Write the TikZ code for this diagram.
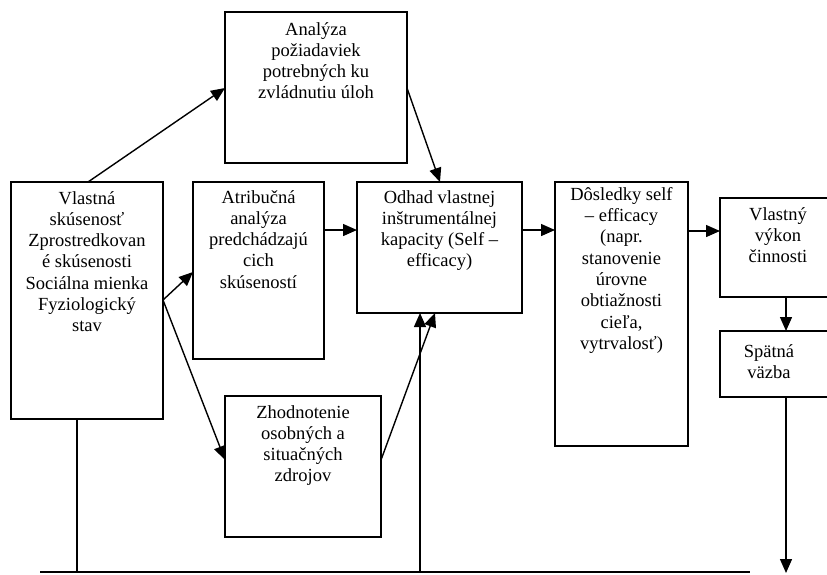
\documentclass[tikz,border=0pt]{standalone}
\usepackage{fontspec}
\setmainfont{Liberation Serif}
\usetikzlibrary{arrows.meta,calc}
\begin{document}
\begin{tikzpicture}[x=1pt,y=-1pt,
  box/.style={draw, line width=1.4pt, inner sep=0pt, outer sep=0pt},
  txt/.style={align=center, inner sep=0pt, font=\fontsize{18.5}{21.3}\selectfont, anchor=north},
  ln/.style={line width=1.4pt},
  arr/.style={line width=1.4pt, -{Triangle[length=14pt,width=12pt]}}]
\useasboundingbox (0,0) rectangle (827,574);
\clip (0,0) rectangle (827,574);
% boxes
\node[box, minimum width=152pt, minimum height=237pt] (A) at (87,300.5) {};
\node[box, minimum width=182pt, minimum height=151pt] (Ana) at (316,87.5) {};
\node[box, minimum width=131pt, minimum height=177pt] (Atr) at (258.5,270.5) {};
\node[box, minimum width=165pt, minimum height=131pt] (Odh) at (439.5,247.5) {};
\node[box, minimum width=133pt, minimum height=264pt] (Dos) at (621.5,314) {};
\node[box, minimum width=132pt, minimum height=99pt] (Vyk) at (786,247.5) {};
\node[box, minimum width=132pt, minimum height=66pt] (Spa) at (786,364) {};
\node[box, minimum width=156pt, minimum height=141pt] (Zh) at (303,466.5) {};
% texts
\node[txt] (tA) at ($(A.north)+(0,9)$) {Vlastná\\ skúsenosť\\ Zprostredkovan\\ é skúsenosti\\ Sociálna mienka\\ Fyziologický\\ stav};
\node[txt] (tAna) at ($(Ana.north)+(0,10)$) {Analýza\\ požiadaviek\\ potrebných ku\\ zvládnutiu úloh};
\node[txt] (tAtr) at ($(Atr.north)+(0,8)$) {Atribučná\\ analýza\\ predchádzajú\\ cich\\ skúseností};
\node[txt] (tOdh) at ($(Odh.north)+(0,8)$) {Odhad vlastnej\\ inštrumentálnej\\ kapacity (Self –\\ efficacy)};
\node[txt] (tDos) at ($(Dos.north)+(0,5)$) {Dôsledky self\\ – efficacy\\ (napr.\\ stanovenie\\ úrovne\\ obtiažnosti\\ cieľa,\\ vytrvalosť)};
\node[txt] (tVyk) at ($(Vyk.north)+(-8,9)$) {Vlastný\\ výkon\\ činnosti};
\node[txt] (tSpa) at ($(Spa.north)+(-17,13)$) {Spätná\\ väzba};
\node[txt] (tZh) at ($(Zh.north)+(0,9)$) {Zhodnotenie\\ osobných a\\ situačných\\ zdrojov};
% coordinates
\coordinate (bl) at (40,572);
\coordinate (br) at (750,572);
\coordinate (bA) at (77,572);
\coordinate (bO) at (420,572);
\coordinate (end) at (786,573);
% connectors
\draw[arr] ($(A.north west)+(77,0)$) -- ($(Ana.north west)+(0,76)$);
\draw[arr] ($(Ana.north east)+(0,76)$) -- ($(Odh.north west)+(83,0)$);
\draw[arr] ($(A.north east)+(0,118)$) -- ($(Atr.north west)+(0,90)$);
\draw[arr] ($(A.north east)+(0,118)$) -- ($(Zh.north west)+(0,64)$);
\draw[arr] ($(Atr.north east)+(0,48)$) -- ($(Odh.north west)+(0,48)$);
\draw[arr] ($(Odh.north east)+(0,48)$) -- ($(Dos.north west)+(0,48)$);
\draw[arr] ($(Dos.north east)+(0,49)$) -- ($(Vyk.north west)+(0,33)$);
\draw[arr] (Vyk.south) -- (Spa.north);
\draw[arr] (Spa.south) -- (end);
\draw[ln] (bl) -- (br);
\draw[ln] ($(A.south west)+(66,0)$) -- (bA);
\draw[arr] (bO) -- ($(Odh.south west)+(63,0)$);
\draw[arr] ($(Zh.north east)+(0,64)$) -- ($(Odh.south west)+(78,0)$);
\end{tikzpicture}
\end{document}
